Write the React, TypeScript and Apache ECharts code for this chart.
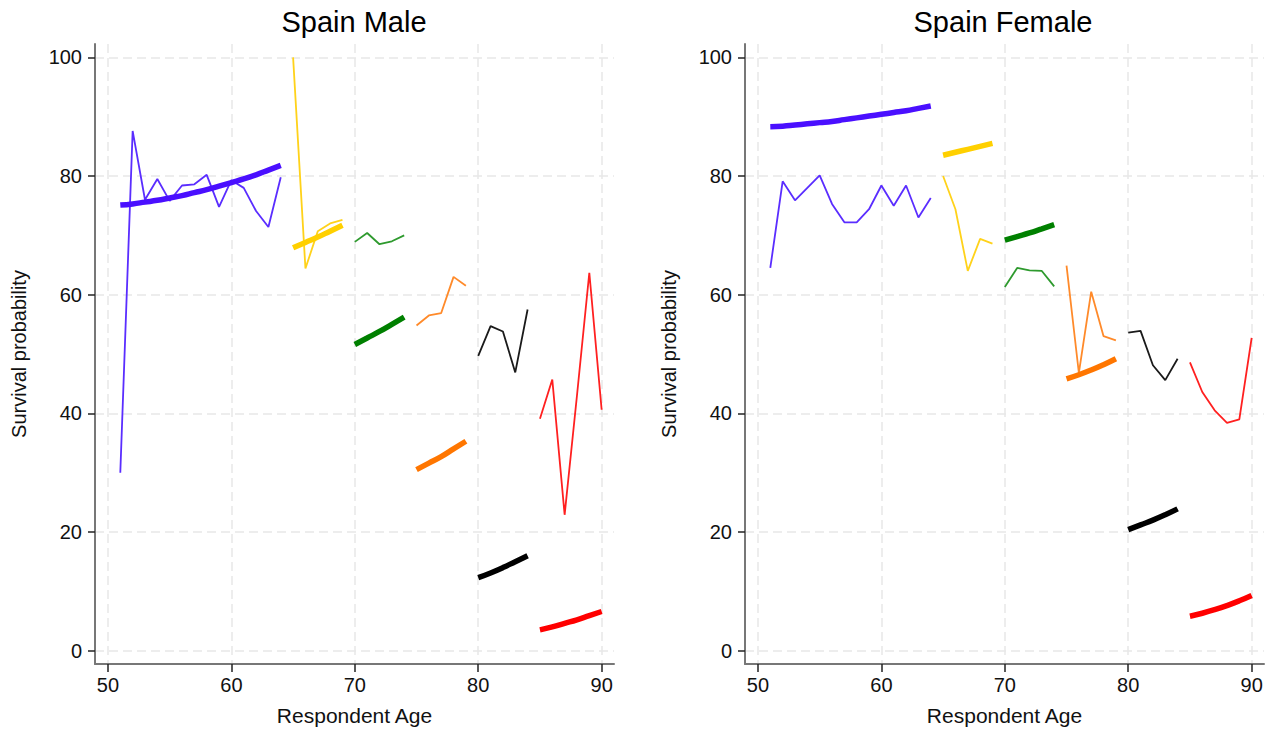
import React, { useEffect, useRef } from "react";
import * as echarts from "echarts";

// ---------- data ----------
const agesA = [51, 52, 53, 54, 55, 56, 57, 58, 59, 60, 61, 62, 63, 64];
const agesB = [65, 66, 67, 68, 69];
const agesC = [70, 71, 72, 73, 74];
const agesD = [75, 76, 77, 78, 79];
const agesE = [80, 81, 82, 83, 84];
const agesF = [85, 86, 87, 88, 89, 90];

// Male – observed (thin)
const maleObsA = [30.0, 87.6, 76.0, 79.5, 75.8, 78.4, 78.6, 80.2, 74.8, 79.3, 78.0, 74.1, 71.4, 79.8];
const maleObsB = [100.0, 64.4, 70.7, 72.0, 72.6];
const maleObsC = [68.9, 70.4, 68.5, 69.0, 70.0];
const maleObsD = [54.8, 56.5, 56.9, 63.0, 61.5];
const maleObsE = [49.7, 54.7, 53.8, 46.9, 57.5];
const maleObsF = [39.1, 45.7, 22.9, 43.0, 63.7, 40.6];
// Male – expected (thick)
const maleFitA = [75.1, 75.3, 75.6, 75.9, 76.3, 76.7, 77.2, 77.7, 78.3, 78.9, 79.5, 80.2, 81.0, 81.8];
const maleFitB = [67.9, 68.8, 69.7, 70.7, 71.7];
const maleFitC = [51.6, 52.7, 53.8, 55.0, 56.2];
const maleFitD = [30.5, 31.6, 32.7, 34.0, 35.3];
const maleFitE = [12.3, 13.1, 14.0, 15.0, 16.0];
const maleFitF = [3.5, 4.0, 4.6, 5.2, 5.9, 6.6];

// Female – observed (thin)
const femObsA = [64.5, 79.1, 75.9, 78.0, 80.1, 75.3, 72.2, 72.2, 74.4, 78.4, 75.0, 78.4, 73.0, 76.3];
const femObsB = [80.0, 74.4, 64.0, 69.4, 68.6];
const femObsC = [61.3, 64.5, 64.1, 64.0, 61.4];
const femObsD = [64.9, 46.8, 60.5, 53.0, 52.3];
const femObsE = [53.6, 53.9, 48.1, 45.6, 49.2];
const femObsF = [48.6, 43.6, 40.5, 38.4, 39.0, 52.7];
// Female – expected (thick)
const femFitA = [88.3, 88.4, 88.6, 88.8, 89.0, 89.2, 89.5, 89.8, 90.1, 90.4, 90.7, 91.0, 91.4, 91.8];
const femFitB = [83.5, 84.0, 84.5, 85.0, 85.5];
const femFitC = [69.2, 69.8, 70.4, 71.1, 71.8];
const femFitD = [45.8, 46.5, 47.3, 48.2, 49.2];
const femFitE = [20.4, 21.2, 22.0, 22.9, 23.9];
const femFitF = [5.8, 6.3, 6.9, 7.6, 8.4, 9.3];

const xTicks = [50, 60, 70, 80, 90];
const yTicks = [0, 20, 40, 60, 80, 100];
const titles = ["Spain Male", "Spain Female"];

const segAges = [agesA, agesB, agesC, agesD, agesE, agesF];
const thinColors = ["#5a2dff", "#ffd21a", "#2e9a2e", "#ff8a2a", "#1a1a1a", "#ff2020"];
const thickColors = ["#4a0fff", "#ffd000", "#008000", "#ff7600", "#000000", "#ff0000"];

const FONT = "'Liberation Sans', Arial, Helvetica, sans-serif";

export default function App() {
  const ref = useRef<HTMLDivElement>(null);
  useEffect(() => {
    document.body.style.margin = "0";
    if (!ref.current) return;
    const chart = echarts.init(ref.current, undefined, { renderer: "svg" });

    const panels = [
      { obs: [maleObsA, maleObsB, maleObsC, maleObsD, maleObsE, maleObsF], fit: [maleFitA, maleFitB, maleFitC, maleFitD, maleFitE, maleFitF] },
      { obs: [femObsA, femObsB, femObsC, femObsD, femObsE, femObsF], fit: [femFitA, femFitB, femFitC, femFitD, femFitE, femFitF] },
    ];

    const gridLefts = [95, 745];
    const grids = gridLefts.map((l) => ({ left: l, top: 44, width: 519, height: 620 }));

    const splitStyle = { show: true, lineStyle: { color: "#e8e8e8", width: 1.5, type: [9, 5] as any } };

    const xAxes = gridLefts.map((_, i) => ({
      type: "value",
      gridIndex: i,
      min: 48.95,
      max: 91.0,
      name: "Respondent Age",
      nameLocation: "middle",
      nameGap: 41,
      nameTextStyle: { fontFamily: FONT, fontSize: 21, color: "#111" },
      axisLine: { show: true, onZero: false, lineStyle: { color: "#777", width: 2 } },
      axisTick: { show: true, length: 8, customValues: xTicks, lineStyle: { color: "#222", width: 1.5 } },
      axisLabel: { show: true, customValues: xTicks, margin: 11, fontFamily: FONT, fontSize: 20, color: "#111" },
      splitLine: splitStyle,
    }));

    const yAxes = gridLefts.map((_, i) => ({
      type: "value",
      gridIndex: i,
      min: -2.25,
      max: 102.25,
      name: "Survival probability",
      nameLocation: "middle",
      nameGap: 66,
      nameTextStyle: { fontFamily: FONT, fontSize: 20, color: "#111" },
      axisLine: { show: true, onZero: false, lineStyle: { color: "#777", width: 2 } },
      axisTick: { show: true, length: 7, customValues: yTicks, lineStyle: { color: "#222", width: 1.5 } },
      axisLabel: { show: true, customValues: yTicks, margin: 13, fontFamily: FONT, fontSize: 20, color: "#111" },
      splitLine: splitStyle,
    }));

    const series: any[] = [];
    panels.forEach((p, pi) => {
      segAges.forEach((ages, si) => {
        series.push({
          type: "line",
          xAxisIndex: pi,
          yAxisIndex: pi,
          data: ages.map((a, k) => [a, p.obs[si][k]]),
          showSymbol: false,
          lineStyle: { color: thinColors[si], width: 1.8 },
          z: 2,
        });
        series.push({
          type: "line",
          xAxisIndex: pi,
          yAxisIndex: pi,
          data: ages.map((a, k) => [a, p.fit[si][k]]),
          showSymbol: false,
          smooth: true,
          lineStyle: { color: thickColors[si], width: 5.5, cap: "butt" },
          z: 3,
        });
      });
    });

    chart.setOption({
      animation: false,
      backgroundColor: "#ffffff",
      grid: grids,
      xAxis: xAxes,
      yAxis: yAxes,
      series,
      graphic: [
        { type: "text", x: 354, y: 22, style: { text: titles[0], font: `29px ${FONT}`, fill: "#000", textAlign: "center", textVerticalAlign: "middle" } },
        { type: "text", x: 1003, y: 22, style: { text: titles[1], font: `29px ${FONT}`, fill: "#000", textAlign: "center", textVerticalAlign: "middle" } },
      ],
    });
    return () => chart.dispose();
  }, []);
  return <div ref={ref} style={{ width: 1273, height: 733 }} />;
}
